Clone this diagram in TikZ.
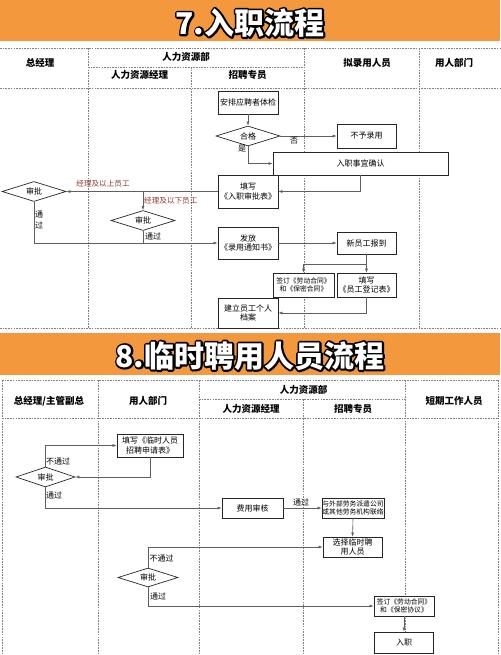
\documentclass[tikz,border=0pt]{standalone}
\usepackage{fontspec}
\setmainfont{Noto Sans CJK SC}
\usetikzlibrary{arrows.meta,shapes.geometric,calc}
\definecolor{bannerorange}{RGB}{244,152,62}
\definecolor{labelred}{RGB}{150,58,48}
\definecolor{lanegray}{RGB}{130,130,130}
\definecolor{linegray}{RGB}{95,95,95}
\newcommand{\strokedtext}[1]{\special{pdf:code q 0 0 0 RG 0 0 0 rg 2 Tr 3.8 w 1 j 1 J}#1\special{pdf:code Q}}
\tikzset{
  box/.style={draw=black!85, line width=0.7pt, fill=white, inner sep=0pt, align=center, font=\fontsize{8}{9.6}\selectfont},
  smallbox/.style={box, font=\fontsize{6.8}{8.2}\selectfont},
  dia/.style={diamond, shape aspect=3.2, draw=black!85, line width=0.7pt, fill=white, inner sep=0pt, font=\fontsize{8}{9.6}\selectfont},
  lane/.style={draw=lanegray, line width=0.7pt, dash pattern=on 1.6pt off 1.1pt},
  conn/.style={draw=linegray, line width=0.6pt},
  arr/.style={conn, -{Latex[length=4pt,width=3pt]}},
  lbl/.style={inner sep=0pt, font=\fontsize{8}{9.6}\selectfont, align=left},
  rlbl/.style={lbl, text=labelred, font=\fontsize{7.6}{9}\selectfont},
  head/.style={inner sep=0pt, font=\bfseries\fontsize{9.5}{11}\selectfont},
  ttl/.style={inner sep=0pt, font=\bfseries\fontsize{30}{32}\selectfont},
}
\begin{document}
\begin{tikzpicture}[x=1pt,y=-1pt]
\useasboundingbox (0,0) rectangle (500,655);
\fill[white] (0,0) rectangle (500,655);
% ================= Section 7 =================
\fill[bannerorange] (0,0) rectangle (500,41);
\node[ttl] (t7s) at (250,23) {\strokedtext{7.入职流程}};
\node[ttl, text=white] (t7) at (250,23) {7.入职流程};
% header grid
\draw[lane] (0,48) -- (500,48);
\draw[lane] (88,67) -- (304,67);
\draw[lane] (0,88) -- (500,88);
\draw[lane] (0,328.5) -- (500,328.5);
\draw[lane] (88,48) -- (88,328.5);
\draw[lane] (191,67) -- (191,328.5);
\draw[lane] (304,48) -- (304,328.5);
\draw[lane] (419,48) -- (419,328.5);
\node[head] (h71) at (40,63) {总经理};
\node[head] (h72) at (186,57) {人力资源部};
\node[head] (h73) at (139.5,75) {人力资源经理};
\node[head] (h74) at (247.5,75) {招聘专员};
\node[head] (h75) at (367,63) {拟录用人员};
\node[head] (h76) at (454,63) {用人部门};
% nodes
\node[box, minimum width=60pt, minimum height=23pt] (n1) at (248,102.5) {安排应聘者体检};
\node[dia, minimum width=64pt, minimum height=20pt] (d1) at (248,136) {合格};
\node[box, minimum width=59pt, minimum height=24pt] (n2) at (366.5,136) {不予录用};
\node[box, minimum width=175pt, minimum height=23pt] (n3) at (360.5,163.5) {入职事宜确认};
\node[box, minimum width=60pt, minimum height=33pt] (n4) at (248,191.5) {填写\\《入职审批表》};
\node[dia, minimum width=64pt, minimum height=20pt] (d2) at (34,191.5) {审批};
\node[dia, minimum width=64pt, minimum height=20pt] (d3) at (143,220.5) {审批};
\node[box, minimum width=60pt, minimum height=32pt] (n5) at (248,243) {发放\\《录用通知书》};
\node[box, minimum width=59pt, minimum height=22pt] (n6) at (366.5,243) {新员工报到};
\node[smallbox, minimum width=61pt, minimum height=24pt] (n7) at (303.5,285) {签订《劳动合同》\\和《保密合同》};
\node[box, minimum width=59pt, minimum height=24pt] (n8) at (366.5,285) {填写\\《员工登记表》};
\node[box, minimum width=60pt, minimum height=30pt] (n9) at (248,313) {建立员工个人\\档案};
\coordinate (j1) at (143,191.5);
\coordinate (j2) at (366.5,264);
\coordinate (j3) at (303.5,264);
% connectors
\draw[arr] (n1) -- (d1);
\draw[arr] (d1.east) -- (n2.west);
\draw[arr] (d1.south) |- (n3.west);
\draw[arr] (n3.south) |- (n4.east);
\draw[arr] (n4.west) -- (d2.east);
\draw[arr] (j1) -- (d3.north);
\draw[arr] (d2.south) |- (n5.west);
\draw[conn] (d3.south) -- (d3.south |- n5.west);
\draw[arr] (n5.east) -- (n6.west);
\draw[conn] (n6.south) -- (j2) -- (j3);
\draw[arr] (j3) -- (n7.north);
\draw[arr] (j2) -- (n8.north);
\draw[arr] (n8.south) |- (n9.east);
% labels
\node[lbl] (l1) at (294,141) {否};
\node[lbl] (l2) at (242,149) {是};
\node[rlbl] (l3) at (103,184) {经理及以上员工};
\node[rlbl, anchor=west] (l4) at (144,201) {经理及以下员工};
\node[lbl, anchor=north west, font=\fontsize{8}{11}\selectfont] (l5) at (35,210.5) {通\\过};
\node[lbl, anchor=west] (l6) at (145,236) {通过};
% ================= Section 8 =================
\fill[bannerorange] (0,333) rectangle (500,375);
\node[ttl] (t8s) at (250,356) {\strokedtext{8.临时聘用人员流程}};
\node[ttl, text=white] (t8) at (250,356) {8.临时聘用人员流程};
\draw[lane] (2,380) -- (498,380);
\draw[lane] (199,399) -- (405,399);
\draw[lane] (2,418) -- (498,418);
\draw[lane] (2,380) -- (2,655);
\draw[lane] (498,380) -- (498,655);
\draw[lane] (98,380) -- (98,655);
\draw[lane] (199,380) -- (199,655);
\draw[lane] (303.5,399) -- (303.5,655);
\draw[lane] (405,380) -- (405,655);
\node[head] (h81) at (49,401) {总经理/主管副总};
\node[head] (h82) at (148,401) {用人部门};
\node[head] (h83) at (303.5,389.5) {人力资源部};
\node[head] (h84) at (251,408.5) {人力资源经理};
\node[head] (h85) at (353,408.5) {招聘专员};
\node[head] (h86) at (454,401) {短期工作人员};
% nodes
\node[box, minimum width=66pt, minimum height=23pt] (m1) at (150,445.5) {填写《临时人员\\招聘申请表》};
\node[dia, minimum width=59pt, minimum height=20pt] (e1) at (45.5,477) {审批};
\node[box, minimum width=61pt, minimum height=20pt] (m2) at (252.5,508) {费用审核};
\node[smallbox, minimum width=62pt, minimum height=20pt] (m3) at (353,508) {与外部劳务派遣公司\\或其他劳务机构联络};
\node[box, minimum width=59pt, minimum height=20pt] (m4) at (352.5,547) {选择临时聘\\用人员};
\node[dia, minimum width=60pt, minimum height=19pt] (e2) at (148,577.5) {审批};
\node[smallbox, minimum width=60pt, minimum height=20pt] (m5) at (404,606) {签订《劳动合同》\\和《保密协议》};
\node[box, minimum width=59pt, minimum height=21pt] (m6) at (404,642.5) {入职};
% connectors
\draw[arr] (m1.south) |- (e1.east);
\draw[arr] (e1.north) |- (m1.west);
\draw[arr] (e1.south) |- (m2.west);
\draw[arr] (m2.east) -- (m3.west);
\draw[arr] (m3.south) -- (m4.north);
\draw[arr] (e2.north) |- (m4.west);
\draw[arr] (e2.south) |- (m5.west);
\draw[arr] (m5.south) -- (m6.north);
% labels
\node[lbl, anchor=west] (k1) at (46,461) {不通过};
\node[lbl, anchor=west] (k2) at (46,495) {通过};
\node[lbl] (k3) at (301,502) {通过};
\node[lbl, anchor=west] (k4) at (149.5,558) {不通过};
\node[lbl, anchor=west] (k5) at (150,596) {通过};
\end{tikzpicture}
\end{document}
